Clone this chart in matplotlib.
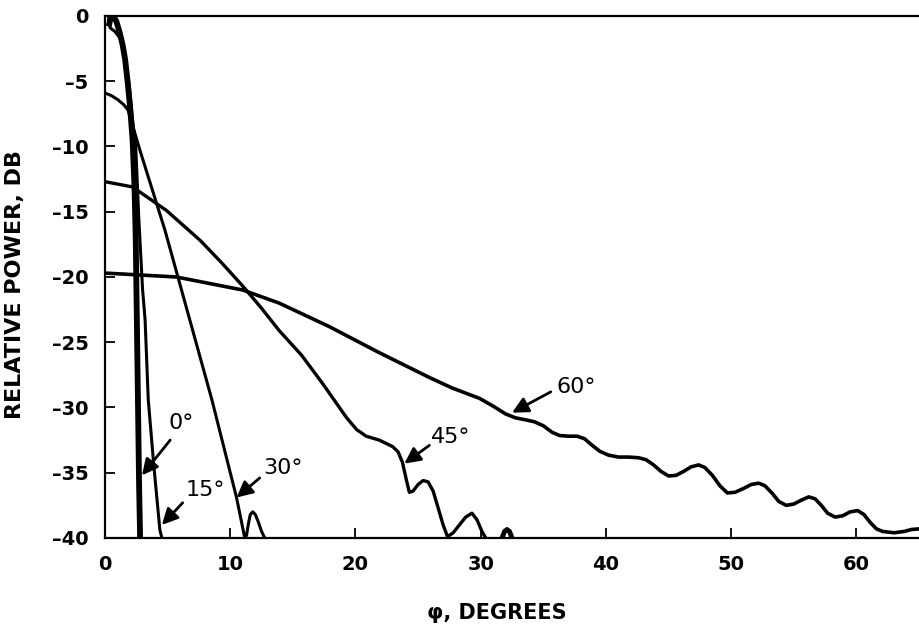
"""
Relative power vs phi for several scan angles
"""

import matplotlib
matplotlib.use("Agg")
import matplotlib.pyplot as plt

# 0 deg beam (heavy line)
x_0 = [0.3, 0.45, 0.65, 0.9, 1.15, 1.4, 1.6, 1.8, 2.0, 2.2, 2.35, 2.45, 2.55, 2.65, 2.72, 2.8]
y_0 = [-0.8, -0.1, 0.0, -0.4, -1.2, -2.2, -3.3, -5.0, -7.0, -9.5, -13.0, -17.0, -24.0, -31.0, -36.0, -40.0]

# 15 deg beam
x_15 = [0.3, 0.4, 0.8, 1.2, 1.6, 1.95, 2.2, 2.45, 2.7, 3.0, 3.2, 3.45, 3.9, 4.38, 4.54]
y_15 = [-0.2, -0.9, -1.2, -1.7, -3.2, -5.5, -8.0, -10.0, -15.6, -21.0, -23.3, -29.4, -34.5, -39.4, -40.0]

# 30 deg beam
x_30 = [0, 0.5, 1.0, 1.5, 1.83, 2.79, 4.78, 5.82, 8.53, 10.5, 11.16,
        11.3, 11.45, 11.6, 11.8, 12.0, 12.25, 12.5, 12.75]
y_30 = [-5.9, -6.1, -6.4, -6.8, -7.2, -10.3, -16.4, -20.0, -29.4, -36.9, -40.0,
        -39.8, -38.9, -38.2, -38.0, -38.2, -38.8, -39.5, -40.0]

# 45 deg beam
x_45 = [0, 2.2, 4.9, 7.6, 9.3, 11.0, 12.5, 13.9, 15.7, 17.4, 19.3, 20.1, 20.85,
        21.9, 22.97, 23.4, 23.75, 24.05, 24.3, 24.6, 25.0, 25.4, 25.8, 26.2, 26.6,
        27.0, 27.35, 27.8, 28.3, 28.8, 29.3, 29.7, 30.1, 30.4]
y_45 = [-12.7, -13.1, -14.9, -17.2, -18.9, -20.7, -22.4, -24.1, -26.0, -28.2, -30.8, -31.7, -32.2,
        -32.5, -33.0, -33.4, -34.2, -35.5, -36.5, -36.4, -35.9, -35.6, -35.7, -36.4, -37.7,
        -39.0, -39.9, -39.6, -39.0, -38.4, -38.1, -38.6, -39.5, -40.0]

# small lobe of the 45 deg beam near 32 deg
x_45b = [31.7, 31.9, 32.1, 32.3, 32.5]
y_45b = [-40.0, -39.5, -39.35, -39.5, -40.0]

# 60 deg beam
x_60 = [0, 5.7, 11.0, 13.9, 17.9, 21.9, 25.9, 27.7, 29.9, 31.0, 32.0, 32.8, 33.6,
        34.3, 35.0, 35.7, 36.3, 37.0, 37.7, 38.3, 38.9, 39.5, 40.2, 41.0, 41.8,
        42.6, 43.2, 43.8, 44.4, 45.0, 45.6, 46.2, 46.8, 47.4, 47.9, 48.5, 49.1,
        49.7, 50.3, 51.0, 51.6, 52.2, 52.7, 53.3, 53.8, 54.4, 55.0, 55.6, 56.2,
        56.7, 57.2, 57.7, 58.3, 58.9, 59.5, 60.1, 60.6, 61.1, 61.6, 62.1, 63.0,
        63.8, 64.4, 65.0]
y_60 = [-19.7, -20.0, -21.0, -22.0, -23.8, -25.8, -27.7, -28.5, -29.3, -29.9, -30.5, -30.8, -30.95,
        -31.1, -31.4, -31.9, -32.15, -32.2, -32.2, -32.4, -32.9, -33.35, -33.65, -33.8, -33.8,
        -33.85, -34.0, -34.4, -34.9, -35.25, -35.2, -34.9, -34.55, -34.4, -34.6, -35.2, -36.0,
        -36.55, -36.5, -36.2, -35.9, -35.8, -36.0, -36.6, -37.2, -37.5, -37.4, -37.1, -36.85,
        -37.0, -37.5, -38.1, -38.4, -38.3, -38.0, -37.9, -38.2, -38.8, -39.3, -39.5, -39.6,
        -39.5, -39.35, -39.3]

# labels: text position, arrow tail, arrow head
labels = ["0°", "15°", "30°", "45°", "60°"]
label_pos = [(6.06, -31.2), (7.97, -36.3), (14.2, -34.6), (27.6, -32.3), (37.6, -28.4)]
arrow_tail = [(5.2, -32.5), (6.2, -37.3), (12.35, -35.4), (25.9, -32.9), (35.6, -28.8)]
arrow_head = [(2.95, -35.2), (4.54, -39.0), (10.5, -36.9), (23.9, -34.3), (32.5, -30.4)]

x_ticks = [0, 10, 20, 30, 40, 50, 60]
y_ticks = [0, -5, -10, -15, -20, -25, -30, -35, -40]

fig = plt.figure(figsize=(9.19, 6.29), dpi=100)
ax = fig.add_axes([0.1143, 0.1447, 0.8857, 0.8299])

ax.plot(x_0, y_0, color='black', lw=4.2, solid_capstyle='butt')
ax.plot(x_15, y_15, color='black', lw=2.2)
ax.plot(x_30, y_30, color='black', lw=2.2)
ax.plot(x_45, y_45, color='black', lw=2.4)
ax.plot(x_45b, y_45b, color='black', lw=3.5)
ax.plot(x_60, y_60, color='black', lw=2.6)

for txt, pos, tail, head in zip(labels, label_pos, arrow_tail, arrow_head):
    ax.text(pos[0], pos[1], txt, fontsize=16, ha='center', va='center')
    ax.annotate('', xy=head, xytext=tail,
                arrowprops=dict(arrowstyle='-|>', color='black', lw=2,
                                mutation_scale=24, shrinkA=0, shrinkB=0))

ax.set_xlim(0, 65)
ax.set_ylim(-40, 0)
ax.set_xticks(x_ticks)
ax.set_yticks(y_ticks)
ax.set_xticklabels([str(t) for t in x_ticks])
ax.set_yticklabels([str(t).replace('-', '\u2013') for t in y_ticks])
ax.tick_params(direction='in', length=7, width=1.3, labelsize=14, pad=12)
for lab in ax.get_xticklabels() + ax.get_yticklabels():
    lab.set_fontweight('bold')

ax.spines['right'].set_visible(False)
for side in ['left', 'bottom', 'top']:
    ax.spines[side].set_linewidth(1.6)

ax.set_xlabel('φ, DEGREES', fontsize=15, fontweight='bold')
ax.xaxis.set_label_coords(0.5 + (496 - 511.5) / 815, -0.125)
ax.set_ylabel('RELATIVE POWER, DB', fontsize=16, fontweight='bold')
ax.yaxis.set_label_coords(-0.098, 0.485)

fig.savefig('out.png', dpi=100)
